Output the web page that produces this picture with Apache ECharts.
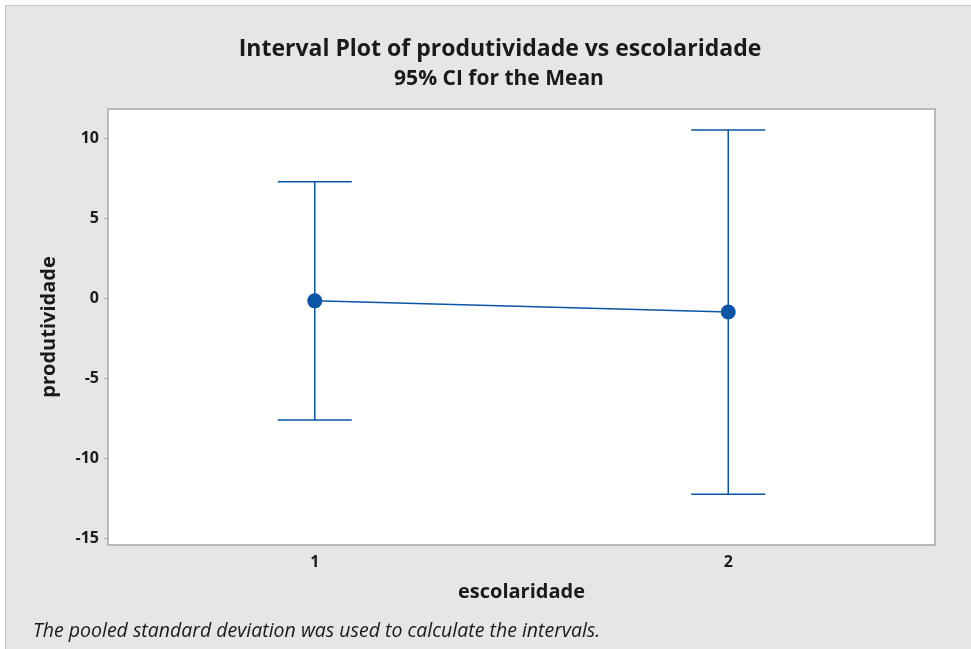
<!DOCTYPE html>
<html>
<head>
<meta charset="utf-8">
<script src="https://cdn.jsdelivr.net/npm/echarts@6/dist/echarts.min.js"></script>
<style>
html,body{margin:0;padding:0;background:#ffffff;}
#chart{width:971px;height:649px;}
</style>
</head>
<body>
<div id="chart"></div>
<script>
var categories = ['1', '2'];
var means = [-0.16, -0.86];
var lowerCI = [-7.61, -12.25];
var upperCI = [7.29, 10.52];
var yTicks = [-15, -10, -5, 0, 5, 10];

var FONT = '"Open Sans", "Noto Sans", sans-serif';
var BLUE = '#0a55a5';

var chart = echarts.init(document.getElementById('chart'), null, {renderer: 'canvas'});

var errData = categories.map(function (c, i) { return [i, lowerCI[i], upperCI[i]]; });

var option = {
  backgroundColor: '#ffffff',
  animation: false,
  graphic: [
    {
      type: 'rect', z: -10, silent: true,
      shape: {x: 5.5, y: 5.5, width: 980, height: 660},
      style: {fill: '#e6e6e6', stroke: '#c8c8c8', lineWidth: 1}
    },
    {
      type: 'text', left: 33, top: 621, silent: true,
      style: {text: 'The pooled standard deviation was used to calculate the intervals.',
        font: 'italic 19.5px ' + FONT, fill: '#1a1a1a'}
    }
  ],
  title: [
    {
      text: 'Interval Plot of produtividade vs escolaridade',
      left: 495, top: 33, textAlign: 'center',
      textStyle: {fontFamily: FONT, fontWeight: 'bold', fontSize: 23, color: '#1a1a1a'}
    },
    {
      text: '95% CI for the Mean',
      left: 494, top: 64, textAlign: 'center',
      textStyle: {fontFamily: FONT, fontWeight: 'bold', fontSize: 21, color: '#1a1a1a'}
    }
  ],
  grid: {
    left: 108, top: 109, width: 827, height: 436,
    show: true, backgroundColor: '#ffffff', borderColor: '#a8a8a8', borderWidth: 1.5
  },
  xAxis: {
    type: 'category',
    data: categories,
    boundaryGap: true,
    name: 'escolaridade',
    nameLocation: 'middle',
    nameGap: 37,
    nameTextStyle: {fontFamily: FONT, fontWeight: 'bold', fontSize: 20, color: '#1a1a1a'},
    axisLine: {show: false},
    axisTick: {show: true, alignWithLabel: true, length: 4, lineStyle: {color: '#a8a8a8'}},
    axisLabel: {fontFamily: FONT, fontWeight: 'bold', fontSize: 16, color: '#1a1a1a', margin: 9},
    splitLine: {show: false}
  },
  yAxis: {
    type: 'value',
    min: -15.42, max: 11.83,
    name: 'produtividade',
    nameLocation: 'middle',
    nameGap: 49,
    nameRotate: 90,
    nameTextStyle: {fontFamily: FONT, fontWeight: 'bold', fontSize: 20, color: '#1a1a1a'},
    axisLine: {show: false},
    axisTick: {show: true, length: 4, lineStyle: {color: '#a8a8a8'}, customValues: yTicks},
    axisLabel: {fontFamily: FONT, fontWeight: 'bold', fontSize: 16, color: '#1a1a1a', margin: 9,
      customValues: yTicks},
    splitLine: {show: false}
  },
  series: [
    {
      type: 'custom',
      data: errData,
      z: 2,
      renderItem: function (params, api) {
        var x = api.value(0);
        var lo = api.coord([x, api.value(1)]);
        var hi = api.coord([x, api.value(2)]);
        var hw = 37;
        var st = {stroke: BLUE, lineWidth: 1.5, fill: null};
        return {
          type: 'group',
          children: [
            {type: 'line', shape: {x1: hi[0], y1: hi[1], x2: lo[0], y2: lo[1]}, style: st},
            {type: 'line', shape: {x1: hi[0] - hw, y1: hi[1], x2: hi[0] + hw, y2: hi[1]}, style: st},
            {type: 'line', shape: {x1: lo[0] - hw, y1: lo[1], x2: lo[0] + hw, y2: lo[1]}, style: st}
          ]
        };
      }
    },
    {
      type: 'line',
      data: means,
      z: 3,
      symbol: 'circle',
      symbolSize: 15,
      lineStyle: {color: BLUE, width: 1.5},
      itemStyle: {color: BLUE}
    }
  ]
};
chart.setOption(option);
</script>
</body>
</html>
